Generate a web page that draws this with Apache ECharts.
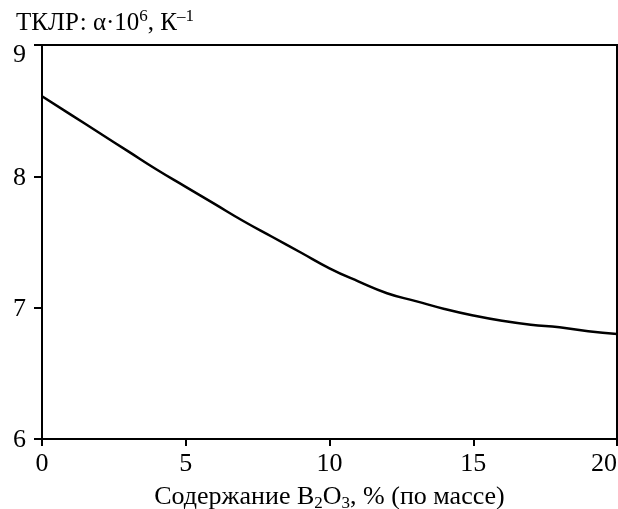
<!DOCTYPE html>
<html>
<head>
<meta charset="utf-8">
<script src="https://cdn.jsdelivr.net/npm/echarts@6/dist/echarts.min.js"></script>
<style>
html,body{margin:0;padding:0;background:#fff;}
#chart{width:618px;height:509px;}
</style>
</head>
<body>
<div id="chart"></div>
<script>
const xValues = [0, 1, 2, 3, 4, 5, 6, 7, 8, 9, 10, 11, 12, 13, 14, 15, 16, 17, 18, 19, 20];
const cteValues = [8.61, 8.47, 8.33, 8.19, 8.05, 7.92, 7.79, 7.66, 7.54, 7.42, 7.30, 7.20, 7.11, 7.05, 6.99, 6.94, 6.90, 6.87, 6.85, 6.82, 6.80];
const xTicks = [0, 5, 10, 15, 20];
const yTicks = [6, 7, 8, 9];

const FONT = '"Liberation Serif", "DejaVu Serif", serif';
const chart = echarts.init(document.getElementById('chart'), null, {renderer: 'canvas'});
const seriesData = xValues.map((x, i) => [x, cteValues[i]]);

chart.setOption({
  animation: false,
  backgroundColor: '#fff',
  textStyle: {fontFamily: FONT, color: '#000'},
  title: {
    text: '{n|ТКЛР: α·10}{s|6}{n|, К}{s|–1}',
    left: 11,
    top: 3,
    textStyle: {
      fontFamily: FONT, fontSize: 25, fontWeight: 'normal', color: '#000',
      rich: {
        n: {fontFamily: FONT, fontSize: 25, fontWeight: 'normal', color: '#000', verticalAlign: 'bottom', lineHeight: 28},
        s: {fontFamily: FONT, fontSize: 17, fontWeight: 'normal', color: '#000', verticalAlign: 'top', lineHeight: 28, padding: [0, 0, 9, 0]}
      }
    }
  },
  grid: {
    left: 42, right: 1, top: 45, bottom: 70,
    containLabel: false,
    outerBoundsMode: 'none',
    show: true, borderColor: '#000', borderWidth: 2, backgroundColor: 'transparent'
  },
  xAxis: {
    type: 'value',
    min: 0, max: 20, interval: 5,
    splitLine: {show: false},
    axisLine: {show: true, lineStyle: {color: '#000', width: 2}},
    axisTick: {show: true, inside: false, length: 7, lineStyle: {color: '#000', width: 2}},
    axisLabel: {
      color: '#000', fontFamily: FONT, fontSize: 26, margin: 12,
      alignMaxLabel: 'right',
      customValues: xTicks,
      formatter: v => String(v)
    },
    name: '{n|Содержание B}{b|2}{n|O}{b|3}{n|, % (по массе)}',
    nameLocation: 'middle',
    nameGap: 43,
    nameTextStyle: {
      fontFamily: FONT, fontSize: 26, color: '#000',
      rich: {
        n: {fontFamily: FONT, fontSize: 26, color: '#000', verticalAlign: 'top', lineHeight: 28},
        b: {fontFamily: FONT, fontSize: 17, color: '#000', verticalAlign: 'bottom', lineHeight: 28, padding: [13, 0, 0, 0]}
      }
    }
  },
  yAxis: {
    type: 'value',
    min: 6, max: 9, interval: 1,
    splitLine: {show: false},
    axisLine: {show: true, lineStyle: {color: '#000', width: 2}},
    axisTick: {show: true, inside: false, length: 8, lineStyle: {color: '#000', width: 2}},
    axisLabel: {
      color: '#000', fontFamily: FONT, fontSize: 26, margin: 16,
      customValues: yTicks,
      formatter: v => v === 9 ? '{t|9}' : '{d|' + v + '}',
      rich: {
        t: {fontFamily: FONT, fontSize: 26, color: '#000', lineHeight: 26, padding: [20, 0, 0, 0]},
        d: {fontFamily: FONT, fontSize: 26, color: '#000', lineHeight: 26, padding: [3, 0, 0, 0]}
      }
    }
  },
  series: [{
    type: 'line',
    data: seriesData,
    smooth: 0.5,
    symbol: 'none',
    lineStyle: {color: '#000', width: 2.5},
    clip: true
  }]
});
</script>
</body>
</html>
